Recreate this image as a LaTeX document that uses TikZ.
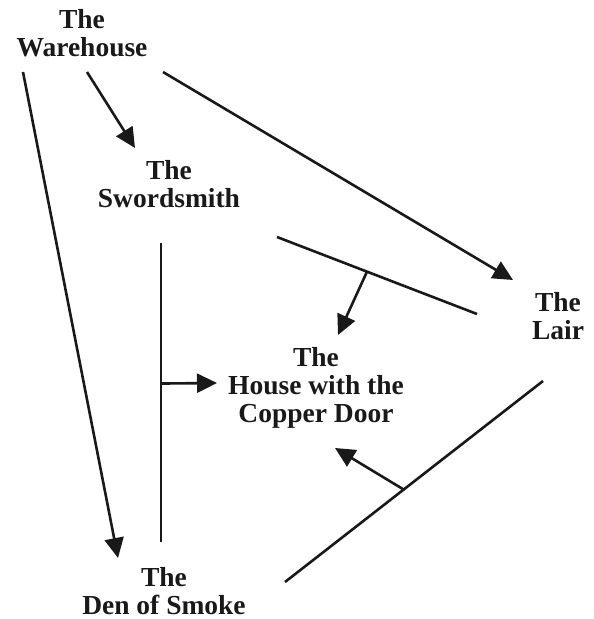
\documentclass[tikz,border=0pt]{standalone}
\usepackage{fontspec}
\setmainfont{Liberation Serif}
\usetikzlibrary{arrows.meta, calc}

\begin{document}
\begin{tikzpicture}[
    x=1pt, y=-1pt,
    place/.style={align=center, inner sep=0pt, font=\fontsize{27.5}{28}\selectfont\bfseries, text=black!90},
    link/.style={line width=2.6pt, black!90},
    arrow/.style={link, -{Triangle[length=20pt, width=19pt]}}
]
\useasboundingbox (0,0) rectangle (594,619);

% Places
\node[place] (warehouse) at (82,33) {The\\Warehouse};
\node[place] (sword) at (169,184) {The\\Swordsmith};
\node[place] (lair) at (558,316) {The\\Lair};
\node[place] (house) at (316,388) {The\\House with the\\Copper Door};
\node[place] (den) at (164,591) {The\\Den of Smoke};

% Arrows from the Warehouse
\draw[arrow] ($(warehouse)+(-59,39)$) -- ($(den)+(-46,-33)$);
\draw[arrow] ($(warehouse)+(5,39)$) -- ($(sword)+(-34,-36)$);
\draw[arrow] ($(warehouse)+(81,39)$) -- ($(lair)+(-45,-36)$);

% Joint links, each pointing at the House
\draw[link] ($(sword)+(108,53)$) -- coordinate[pos=0.45] (sl) ($(lair)+(-81,-2)$);
\draw[link] ($(sword)+(-8,59)$) -- coordinate[pos=0.47] (sd) ($(den)+(-3,-49)$);
\draw[link] ($(lair)+(-15,65)$) -- coordinate[pos=0.54] (ld) ($(den)+(121,-9)$);

\draw[arrow] (sl) -- ($(house)+(22,-53)$);
\draw[arrow] (sd) -- ($(house)+(-99,-5)$);
\draw[arrow] (ld) -- ($(house)+(19,60)$);

\end{tikzpicture}
\end{document}
